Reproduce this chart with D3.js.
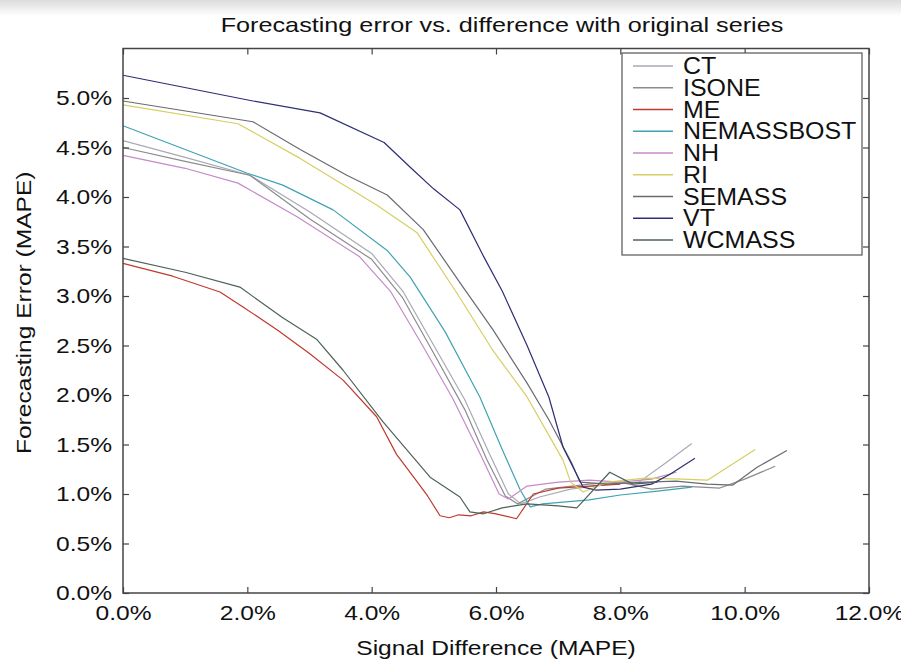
<!DOCTYPE html>
<html><head><meta charset="utf-8">
<script src="https://cdn.jsdelivr.net/npm/d3@7"></script>
<style>
body{margin:0;background:#fff}
svg{display:block}
text{font-family:"Liberation Sans",Arial,Helvetica,sans-serif;fill:#111}
</style>
</head><body>
<svg id="chart" width="901" height="664"></svg>
<script>
// ---- data (x: signal difference %, y: forecasting error %) ----
const seriesNames = ["CT","ISONE","ME","NEMASSBOST","NH","RI","SEMASS","VT","WCMASS"];
const seriesColors = ["#a9a9b6","#8c8c8c","#c0392f","#3fa3b3","#c58ac8","#d6cf62","#6a6a72","#2e2e74","#4e6258"];

const ctData = [[0,4.57],[1.0,4.4],[2.04,4.22],[3.0,3.85],[4.0,3.43],[4.5,3.05],[5.0,2.5],[5.5,1.95],[5.9,1.4],[6.2,1.0],[6.4,0.9],[6.7,0.97],[7.2,1.05],[7.8,1.1],[8.3,1.12],[8.7,1.3],[9.15,1.51]];
const isoneData = [[0,4.5],[1.0,4.36],[2.04,4.22],[3.0,3.78],[4.0,3.37],[4.5,2.98],[5.0,2.42],[5.5,1.85],[5.85,1.35],[6.15,0.98],[6.35,0.9],[6.8,1.05],[7.5,1.1],[8.0,1.12],[8.5,1.05],[9.0,1.08],[9.6,1.06],[10.0,1.15],[10.49,1.28]];
const meData = [[0,3.33],[0.8,3.2],[1.56,3.04],[1.93,2.89],[2.5,2.65],[3.0,2.42],[3.54,2.15],[4.08,1.78],[4.4,1.4],[4.7,1.15],[4.9,0.98],[5.1,0.78],[5.25,0.76],[5.4,0.79],[5.6,0.78],[5.8,0.82],[6.0,0.8],[6.33,0.75],[6.6,1.0],[7.0,1.06],[7.5,1.08],[8.0,1.1]];
const nemassbostData = [[0,4.72],[1.0,4.48],[2.0,4.24],[2.57,4.12],[3.38,3.87],[4.25,3.46],[4.62,3.19],[5.18,2.64],[5.74,1.98],[6.1,1.45],[6.39,1.04],[6.55,0.87],[6.75,0.9],[7.5,0.94],[8.0,0.99],[8.6,1.03],[9.15,1.07]];
const nhData = [[0,4.42],[1.0,4.29],[1.85,4.14],[2.8,3.8],[3.8,3.4],[4.3,3.05],[4.8,2.52],[5.3,1.97],[5.75,1.4],[6.05,1.0],[6.2,0.95],[6.5,1.08],[7.0,1.12],[7.5,1.14],[8.0,1.12],[8.5,1.15],[8.9,1.22]];
const riData = [[0,4.93],[1.85,4.74],[2.85,4.39],[4.08,3.92],[4.73,3.64],[5.37,3.03],[5.95,2.45],[6.5,1.98],[7.08,1.34],[7.2,1.12],[7.4,1.02],[7.8,1.12],[8.4,1.16],[9.0,1.15],[9.4,1.14],[10.17,1.45]];
const semassData = [[0,4.97],[2.09,4.76],[2.85,4.48],[3.6,4.22],[4.25,4.02],[4.83,3.67],[5.47,3.09],[5.95,2.66],[6.5,2.12],[6.85,1.75],[7.22,1.31],[7.35,1.12],[7.8,1.1],[8.4,1.12],[8.9,1.13],[9.4,1.1],[9.81,1.09],[10.2,1.27],[10.68,1.44]];
const vtData = [[0,5.23],[2.09,4.97],[3.17,4.85],[4.2,4.55],[4.62,4.3],[5.0,4.08],[5.42,3.87],[5.8,3.4],[6.1,3.05],[6.5,2.5],[6.85,1.98],[7.08,1.47],[7.4,1.07],[7.6,1.04],[8.0,1.05],[8.5,1.1],[8.8,1.2],[9.2,1.36]];
const wcmassData = [[0,3.38],[1.0,3.24],[1.88,3.09],[2.57,2.78],[3.12,2.56],[3.54,2.25],[4.18,1.73],[4.94,1.17],[5.42,0.97],[5.58,0.82],[5.8,0.8],[6.1,0.86],[6.5,0.9],[7.0,0.88],[7.3,0.86],[7.83,1.22],[8.2,1.1],[8.6,1.12]];
const seriesData = [ctData,isoneData,meData,nemassbostData,nhData,riData,semassData,vtData,wcmassData];

const xTicks = [0,2,4,6,8,10,12];
const yTicks = [0,0.5,1,1.5,2,2.5,3,3.5,4,4.5,5];
const titleText = "Forecasting error vs. difference with original series";
const xLabelText = "Signal Difference (MAPE)";
const yLabelText = "Forecasting Error (MAPE)";

// ---- layout ----
const svg = d3.select("#chart");
const L = 123, R = 869, T = 48.5, B = 593;
const x = d3.scaleLinear().domain([0,12]).range([L,R]);
const y = d3.scaleLinear().domain([0,5.5]).range([B,T]);
function stretch(sel, k){
  k = k || 1.17;
  sel.each(function(){
    const w = this.getComputedTextLength();
    this.setAttribute("textLength", w*k);
    this.setAttribute("lengthAdjust","spacingAndGlyphs");
  });
}

// top shadow band
const defs = svg.append("defs");
const g1 = defs.append("linearGradient").attr("id","shade").attr("x1",0).attr("y1",0).attr("x2",0).attr("y2",1);
g1.append("stop").attr("offset","0%").attr("stop-color","#dcdcdc");
g1.append("stop").attr("offset","100%").attr("stop-color","#ffffff");
svg.append("rect").attr("x",0).attr("y",0).attr("width",901).attr("height",16).attr("fill","url(#shade)");

// title
svg.append("text").attr("x",(L+R)/2+6).attr("y",32).attr("text-anchor","middle")
  .style("font-size","21px").text(titleText).call(stretch, 1.2);

// lines
const line = d3.line().x(d=>x(d[0])).y(d=>y(d[1]));
svg.append("g").selectAll("path").data(seriesData).join("path")
  .attr("d",line).attr("fill","none")
  .attr("stroke",(d,i)=>seriesColors[i]).attr("stroke-width",1.2)
  .attr("stroke-linejoin","round");

// axes
const axColor = "#444";
const gx = svg.append("g").attr("transform",`translate(0,${B})`)
  .call(d3.axisBottom(x).tickValues(xTicks).tickFormat(d=>d.toFixed(1)+"%").tickSizeInner(-6).tickSizeOuter(0).tickPadding(12));
const gy = svg.append("g").attr("transform",`translate(${L},0)`)
  .call(d3.axisLeft(y).tickValues(yTicks).tickFormat(d=>d.toFixed(1)+"%").tickSizeInner(-6).tickSizeOuter(0).tickPadding(11));
const gt = svg.append("g").attr("transform",`translate(0,${T})`)
  .call(d3.axisTop(x).tickValues(xTicks).tickFormat("").tickSizeInner(-6).tickSizeOuter(0));
const gr = svg.append("g").attr("transform",`translate(${R},0)`)
  .call(d3.axisRight(y).tickValues(yTicks).tickFormat("").tickSizeInner(-6).tickSizeOuter(0));
[gx,gy,gt,gr].forEach(g=>{
  g.select(".domain").remove();
  g.selectAll(".tick line").attr("stroke",axColor).attr("stroke-width",1.2);
  g.selectAll("text").attr("font-family",null).style("font-size","21px").style("fill","#111");
});
gx.selectAll(".tick text").call(stretch);
gy.selectAll(".tick text").call(stretch);

svg.append("rect").attr("x",L).attr("y",T).attr("width",R-L).attr("height",B-T)
  .attr("fill","none").attr("stroke",axColor).attr("stroke-width",1.5);

// axis titles
svg.append("text").attr("x",(L+R)/2).attr("y",655).attr("text-anchor","middle")
  .style("font-size","21px").text(xLabelText).call(stretch);
svg.append("text").attr("transform",`translate(31,${(T+B)/2-8}) rotate(-90)`).attr("text-anchor","middle")
  .style("font-size","21px").text(yLabelText).call(stretch);

// legend
const lg = svg.append("g");
lg.append("rect").attr("x",622).attr("y",53).attr("width",240).attr("height",202)
  .attr("fill","#fff").attr("stroke","#555").attr("stroke-width",1.2);
const ly = d3.scalePoint().domain(seriesNames).range([66,240]);
const items = lg.selectAll("g.item").data(seriesNames).join("g").attr("class","item")
  .attr("transform",d=>`translate(0,${ly(d)})`);
items.append("line").attr("x1",633).attr("x2",673).attr("y1",0).attr("y2",0)
  .attr("stroke",(d,i)=>seriesColors[i]).attr("stroke-width",1.4);
items.append("text").attr("x",683).attr("y",8).style("font-size","24px").text(d=>d).call(stretch, 1.04);
</script>
</body></html>
